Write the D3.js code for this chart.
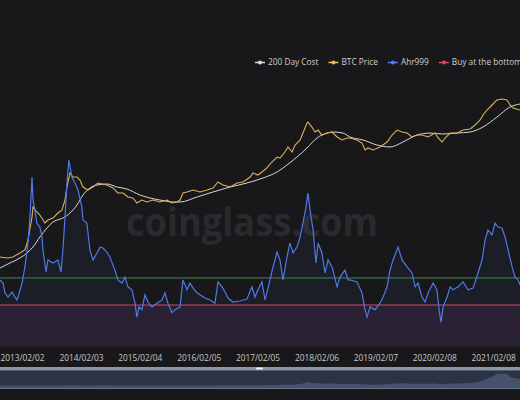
<!DOCTYPE html>
<html><head><meta charset="utf-8">
<script src="https://cdn.jsdelivr.net/npm/d3@7"></script>
<style>html,body{margin:0;padding:0;background:#18181a;}svg{display:block}</style>
</head><body><svg id="c" width="520" height="400"></svg>
<script>
// ---------- DATA ----------
const xTickLabels = ["2013/02/02","2014/02/03","2015/02/04","2016/02/05","2017/02/05","2018/02/06","2019/02/07","2020/02/08","2021/02/08"];
const seriesNames = ["200 Day Cost","BTC Price","Ahr999","Buy at the bottom"];
const investLevel = 1.2;
const bottomLevel = 0.45;
const dateRange = ["2012-09-18","2021-07-25"];

const ahrDates = [
 "2012-09-18","2012-10-07","2012-10-19","2012-11-07","2012-12-02","2012-12-20",
 "2013-01-01","2013-01-08","2013-02-02","2013-02-20","2013-03-11","2013-03-23","2013-04-05","2013-04-11","2013-04-23","2013-05-05","2013-05-24","2013-06-06","2013-06-12","2013-07-01","2013-07-13","2013-08-13","2013-09-13","2013-10-02","2013-10-14","2013-10-27","2013-11-08","2013-11-20","2013-12-09","2013-12-28",
 "2014-01-16","2014-02-09","2014-02-16","2014-03-12","2014-03-31","2014-04-19","2014-05-14","2014-06-02","2014-06-20","2014-07-15","2014-08-02","2014-09-02","2014-09-21","2014-10-16","2014-11-04","2014-11-22","2014-12-17",
 "2015-01-05","2015-01-17","2015-01-30","2015-02-17","2015-03-08","2015-03-27","2015-04-21","2015-05-22","2015-06-22","2015-07-10","2015-07-29","2015-08-23","2015-09-11","2015-10-12","2015-10-30","2015-11-24","2015-12-13",
 "2016-01-01","2016-01-26","2016-02-13","2016-03-15","2016-04-15","2016-05-16","2016-06-04","2016-06-29","2016-07-18","2016-08-05","2016-09-05","2016-10-19","2016-12-01",
 "2017-01-01","2017-01-20","2017-02-07","2017-03-04","2017-03-23","2017-04-11","2017-05-12","2017-06-06","2017-06-24","2017-07-13","2017-08-07","2017-08-25","2017-09-13","2017-10-08","2017-10-27","2017-11-14","2017-12-03","2017-12-15","2017-12-28",
 "2018-01-16","2018-02-03","2018-02-16","2018-03-12","2018-03-31","2018-04-19","2018-05-14","2018-06-14","2018-07-02","2018-08-02","2018-08-21","2018-09-02","2018-10-16","2018-11-16","2018-12-05","2018-12-17",
 "2019-01-05","2019-02-05","2019-03-08","2019-03-27","2019-04-21","2019-05-09","2019-05-28","2019-06-28","2019-07-23","2019-08-23","2019-09-23","2019-10-12","2019-10-30","2019-11-24","2019-12-13",
 "2020-01-01","2020-02-01","2020-02-25","2020-03-09","2020-03-21","2020-04-03","2020-04-28","2020-05-17","2020-06-04","2020-07-05","2020-08-05","2020-09-05","2020-10-06","2020-11-06","2020-12-01","2020-12-20",
 "2021-01-07","2021-02-01","2021-02-20","2021-03-11","2021-04-04","2021-04-23","2021-05-12","2021-06-06","2021-06-24","2021-07-13","2021-07-25"];
const ahrValues = [
 1.12,1.00,0.70,0.60,0.72,0.60,
 0.54,0.60,1.00,1.79,4.28,11.0,47.0,20.4,14.2,8.84,7.64,5.32,3.32,1.49,2.31,2.07,2.31,1.49,3.32,11.0,37.8,87.1,47.0,37.8,
 29.3,15.8,9.87,8.84,3.32,2.31,2.98,3.70,3.57,3.08,2.57,1.60,1.12,1.00,1.24,0.87,0.78,
 0.48,0.29,0.42,0.38,0.65,0.50,0.42,0.48,0.54,0.70,0.48,0.34,0.38,0.42,1.12,0.78,1.00,
 0.83,0.70,0.65,0.58,0.54,0.48,1.04,0.87,0.72,0.58,0.50,0.52,0.56,
 0.87,0.60,0.78,1.04,0.54,0.83,1.79,3.08,2.31,1.12,2.57,4.28,2.98,3.70,5.32,8.84,15.8,26.3,14.2,
 6.86,2.07,4.28,2.98,1.44,2.31,1.79,0.87,1.24,1.60,1.12,1.12,1.04,0.70,0.38,0.29,
 0.42,0.38,0.48,0.60,0.87,1.60,2.31,3.70,2.31,1.79,1.44,0.87,1.00,0.60,0.50,
 0.70,1.00,0.78,0.38,0.24,0.42,0.60,0.87,0.78,0.87,1.04,0.78,0.83,1.44,2.31,4.77,
 6.86,5.72,8.84,7.64,7.38,5.32,3.32,1.79,1.24,1.12,0.93];

const priceDates = [
 "2012-09-18","2012-11-01","2012-12-07",
 "2013-01-20","2013-02-20","2013-03-11","2013-04-05","2013-04-11","2013-05-05","2013-05-24","2013-06-24","2013-07-13","2013-08-13","2013-09-13","2013-10-08","2013-10-27","2013-11-08","2013-11-27","2013-12-15",
 "2014-01-09","2014-01-28","2014-02-16","2014-03-18","2014-04-19","2014-05-19","2014-07-15","2014-08-21","2014-09-21","2014-10-22","2014-11-22","2014-12-23",
 "2015-01-17","2015-02-17","2015-03-20","2015-04-27","2015-06-09","2015-07-23","2015-08-23","2015-09-23","2015-10-12","2015-10-30","2015-11-24",
 "2016-01-01","2016-02-13","2016-03-28","2016-05-04","2016-06-04","2016-07-05","2016-08-18","2016-10-01","2016-11-06","2016-12-21",
 "2017-01-07","2017-02-07","2017-03-04","2017-04-04","2017-05-05","2017-06-06","2017-06-24","2017-07-25","2017-08-13","2017-09-07","2017-09-26","2017-10-27","2017-11-14","2017-12-09","2017-12-15",
 "2018-01-09","2018-01-28","2018-02-16","2018-03-12","2018-04-13","2018-05-14","2018-06-14","2018-07-15","2018-08-15","2018-09-02","2018-10-16","2018-11-16","2018-12-05","2018-12-24",
 "2019-01-24","2019-03-08","2019-04-21","2019-05-22","2019-06-22","2019-07-23","2019-08-23","2019-09-23","2019-10-24","2019-11-24",
 "2020-01-01","2020-02-13","2020-03-03","2020-03-28","2020-04-15","2020-05-17","2020-06-29","2020-08-05","2020-09-18","2020-10-19","2020-11-19","2020-12-07",
 "2021-01-01","2021-02-01","2021-03-04","2021-04-04","2021-05-05","2021-05-24","2021-06-12","2021-07-25"];
const priceValues = [
 16.0,15.2,16.0,
 19.7,23.1,39,130,219,169,144,95,111,123,160,187,316,624,1300,1054,
 1054,901,624,534,624,769,693,593,456,456,370,351,
 270,316,285,316,285,316,270,285,316,456,481,
 534,481,534,593,811,693,624,769,811,1054,
 1300,1170,1370,1690,2310,3000,2850,3900,5070,3900,5620,7310,10500,17800,18700,
 14400,11100,12300,9490,10500,11100,8550,7310,8110,8110,7310,6240,4330,4810,
 4330,5070,6580,9490,12300,11100,10500,8550,9490,9490,
 8550,10500,8110,6580,8110,10500,10500,12300,13000,16000,20800,27000,
 35100,45600,59300,62400,59300,45600,39000,35100];

const costDates = [
 "2012-09-18","2012-11-19","2013-01-20","2013-03-04","2013-04-11","2013-05-24","2013-07-07","2013-08-13","2013-10-14","2013-11-27",
 "2014-01-09","2014-02-16","2014-03-31","2014-05-14","2014-07-15","2014-09-15","2014-11-16",
 "2015-02-05","2015-04-08","2015-06-09","2015-08-29","2015-10-12",
 "2016-01-26","2016-05-04","2016-08-18","2016-12-01",
 "2017-03-11","2017-06-06","2017-08-07","2017-10-08","2017-12-09",
 "2018-02-09","2018-04-13","2018-05-20","2018-07-21","2018-09-02","2018-11-23",
 "2019-02-17","2019-05-09","2019-07-29","2019-10-24",
 "2020-01-13","2020-04-03","2020-06-29","2020-09-18","2020-12-07",
 "2021-03-04","2021-05-24","2021-07-25"];
const costValues = [
 9.0,11.7,15.2,19.7,27,45.6,73,100,123,160,
 243,411,593,693,731,624,562,
 411,351,316,285,285,
 370,481,624,769,
 1000,1370,1973,3000,4810,
 8110,10500,11100,10500,8550,7310,
 5620,5070,6580,9490,
 10500,10000,10500,11100,14400,
 24300,41100,48100];

// ---------- CHART ----------
const W = 520, H = 400;
const parse = d3.utcParse("%Y-%m-%d");
const parseTick = d3.utcParse("%Y/%m/%d");
const zipPts = (ds, vs) => d3.range(Math.min(ds.length, vs.length)).map(i => ({d: parse(ds[i]), v: vs[i]}));
const ahr = zipPts(ahrDates, ahrValues);
const price = zipPts(priceDates, priceValues);
const cost = zipPts(costDates, costValues);

const x = d3.scaleUtc().domain(dateRange.map(parse)).range([0, W]);
const yPrice = d3.scaleLog().domain([1, 100000]).range([310, 90]);
const yAhr = d3.scaleLog().domain([0.1, 100]).range([346.4, 156.2]);

const svg = d3.select("#c");
svg.append("rect").attr("width", W).attr("height", H).attr("fill", "#18181a");

const plot = svg.append("g");
// watermark
plot.append("text").attr("x", 252).attr("y", 236).attr("text-anchor", "middle")
  .attr("font-family", "'Open Sans', sans-serif").attr("font-weight", 700).attr("font-size", 40)
  .attr("textLength", 252).attr("lengthAdjust", "spacingAndGlyphs")
  .attr("fill", "#2a2a2e").text("coinglass.com");

// buy-at-bottom zone
plot.append("rect").attr("x", 0).attr("width", W)
  .attr("y", yAhr(bottomLevel)).attr("height", yAhr(0.1) - yAhr(bottomLevel))
  .attr("fill", "#291c28");

// ahr area
plot.append("path").datum(ahr)
  .attr("d", d3.area().x(p => x(p.d)).y0(yAhr(0.1)).y1(p => yAhr(p.v)))
  .attr("fill", "rgba(70,100,210,0.08)");

// threshold lines
plot.append("line").attr("x1", 0).attr("x2", W).attr("y1", yAhr(investLevel)).attr("y2", yAhr(investLevel))
  .attr("stroke", "#3f8c48").attr("stroke-width", 1);
plot.append("line").attr("x1", 0).attr("x2", W).attr("y1", yAhr(bottomLevel)).attr("y2", yAhr(bottomLevel))
  .attr("stroke", "#d4475f").attr("stroke-width", 1);

// lines
plot.append("path").datum(cost)
  .attr("d", d3.line().x(p => x(p.d)).y(p => yPrice(p.v)).curve(d3.curveMonotoneX))
  .attr("fill", "none").attr("stroke", "#d6d6d6").attr("stroke-width", 1);
plot.append("path").datum(price)
  .attr("d", d3.line().x(p => x(p.d)).y(p => yPrice(p.v)))
  .attr("fill", "none").attr("stroke", "#d9b25b").attr("stroke-width", 1.1);
plot.append("path").datum(ahr)
  .attr("d", d3.line().x(p => x(p.d)).y(p => yAhr(p.v)))
  .attr("fill", "none").attr("stroke", "#4f78e8").attr("stroke-width", 1.2);

// x axis
const xAxis = svg.append("g").attr("transform", `translate(0,${yAhr(0.1) + 6})`)
  .call(d3.axisBottom(x).tickValues(xTickLabels.map(parseTick)).tickFormat(d3.utcFormat("%Y/%m/%d")).tickSize(0));
xAxis.select(".domain").remove();
xAxis.selectAll("text").attr("fill", "#c8c8c8").attr("font-family", "'Open Sans', sans-serif").attr("font-size", 8.3);

// legend
const legendColors = ["#dcdcdc", "#e2bd55", "#4f7cf0", "#e0465f"];
const legend = svg.append("g").attr("transform", "translate(255,62.5)");
let lx = 0;
seriesNames.forEach((name, i) => {
  const g = legend.append("g").attr("transform", `translate(${lx},0)`);
  g.append("line").attr("x1", 0).attr("x2", 10).attr("stroke", legendColors[i]).attr("stroke-width", 1.5);
  g.append("circle").attr("cx", 5).attr("r", 2).attr("fill", legendColors[i]);
  const t = g.append("text").attr("x", 13).attr("dy", "0.35em").attr("fill", "#cfcfcf")
    .attr("font-family", "'Open Sans', sans-serif").attr("font-size", 8.3).text(name);
  lx += 13 + t.node().getComputedTextLength() + 10;
});

// slider (data zoom)
const sTop = 367, sBot = 388.5;
const slider = svg.append("g");
slider.append("rect").attr("x", 0).attr("width", W).attr("y", sTop + 3.5).attr("height", sBot - sTop - 3.5).attr("fill", "#2b3346");
const yShadow = d3.scaleLinear().domain([0, 70000]).range([sBot - 3, sTop + 5]);
slider.append("path").datum(price)
  .attr("d", d3.area().x(p => x(p.d)).y0(sBot).y1(p => yShadow(p.v)))
  .attr("fill", "#46516d");
slider.append("rect").attr("x", 0).attr("width", W).attr("y", sTop).attr("height", 3.5).attr("fill", "#8d95a9");
slider.append("rect").attr("x", 256).attr("width", 7).attr("y", sTop + 0.5).attr("height", 2).attr("rx", 1).attr("fill", "#eef1f7");
slider.append("line").attr("x1", 0).attr("x2", W).attr("y1", sBot).attr("y2", sBot).attr("stroke", "#66718c").attr("stroke-width", 1);
</script></body></html>
